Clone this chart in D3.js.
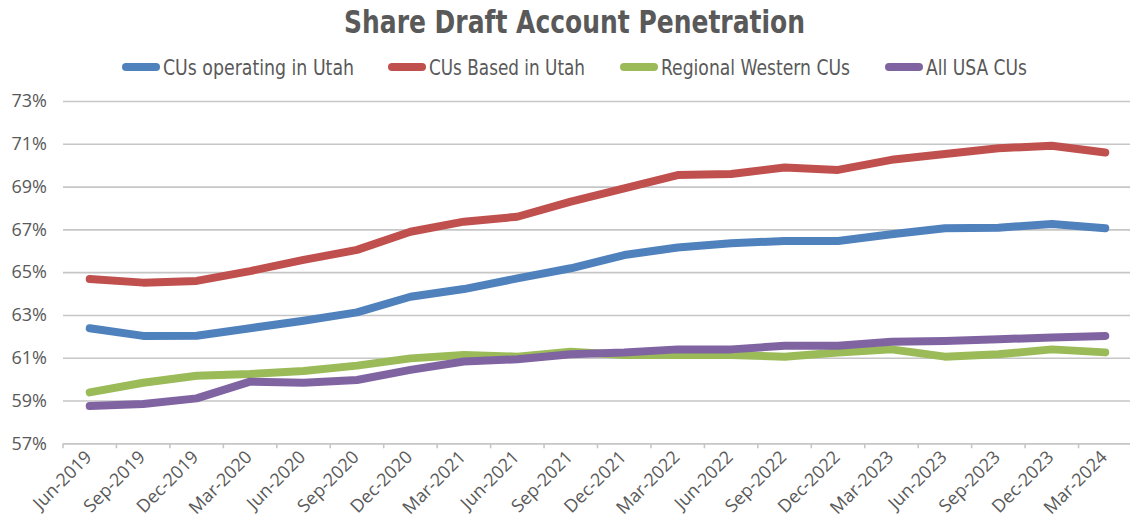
<!DOCTYPE html>
<html>
<head>
<meta charset="utf-8">
<script src="https://cdn.jsdelivr.net/npm/d3@7/dist/d3.min.js"></script>
<style>
  html, body { margin: 0; padding: 0; background: #fff; }
  svg { display: block; }
</style>
</head>
<body>
<svg id="chart" width="1130" height="529"></svg>
<script>
// Quarter-end periods
const categories = [
  "Jun-2019", "Sep-2019", "Dec-2019", "Mar-2020", "Jun-2020", "Sep-2020", "Dec-2020",
  "Mar-2021", "Jun-2021", "Sep-2021", "Dec-2021", "Mar-2022", "Jun-2022", "Sep-2022",
  "Dec-2022", "Mar-2023", "Jun-2023", "Sep-2023", "Dec-2023", "Mar-2024"
];

// Share draft account penetration, percent
const cusOperatingInUtah = [
  62.38, 62.02, 62.03, 62.38, 62.73, 63.12, 63.85, 64.21, 64.71, 65.18,
  65.80, 66.15, 66.35, 66.46, 66.46, 66.77, 67.05, 67.08, 67.25, 67.05
];
const cusBasedInUtah = [
  64.68, 64.51, 64.59, 65.05, 65.57, 66.04, 66.89, 67.36, 67.59, 68.30,
  68.92, 69.54, 69.59, 69.89, 69.78, 70.25, 70.52, 70.79, 70.91, 70.59
];
const regionalWesternCUs = [
  59.38, 59.83, 60.16, 60.24, 60.38, 60.63, 60.97, 61.13, 61.05, 61.28,
  61.13, 61.13, 61.13, 61.05, 61.24, 61.39, 61.05, 61.16, 61.39, 61.25
];
const allUsaCUs = [
  58.74, 58.84, 59.10, 59.88, 59.83, 59.96, 60.43, 60.82, 60.93, 61.16,
  61.24, 61.39, 61.39, 61.56, 61.56, 61.75, 61.78, 61.86, 61.95, 62.02
];

const seriesNames = ["CUs operating in Utah", "CUs Based in Utah", "Regional Western CUs", "All USA CUs"];
const seriesColors = ["#4F81BD", "#C0504D", "#9BBB59", "#8064A2"];
const yTicks = [57, 59, 61, 63, 65, 67, 69, 71, 73];

const series = [cusOperatingInUtah, cusBasedInUtah, regionalWesternCUs, allUsaCUs]
  .map((values, i) => ({ name: seriesNames[i], color: seriesColors[i], values }));

const svg = d3.select("#chart");
const plot = { left: 63, right: 1132, top: 101, bottom: 443.3 };

const x = d3.scaleBand().domain(categories).range([plot.left, plot.right]);
const y = d3.scaleLinear().domain([57, 73]).range([plot.bottom, plot.top]);

const textColor = "#595959";
const gridColor = "#C6C6C6";
const axisFont = "'Open Sans', 'Noto Sans', sans-serif";
const narrowFont = "'DejaVu Sans Condensed', 'Liberation Sans', sans-serif";

// Title (condensed face squeezed to its set width)
svg.append("text")
  .attr("x", 344)
  .attr("y", 33)
  .attr("font-family", narrowFont)
  .attr("font-weight", "bold")
  .attr("font-size", 32)
  .attr("fill", textColor)
  .attr("textLength", 461)
  .attr("lengthAdjust", "spacingAndGlyphs")
  .text("Share Draft Account Penetration");

// Legend
const legendX = [122, 388, 620, 885];
const legendTextWidth = [191, 156, 189, 101];
const legend = svg.append("g");
series.forEach((s, i) => {
  const g = legend.append("g").attr("transform", `translate(${legendX[i]},67)`);
  g.append("line")
    .attr("x1", 4).attr("x2", 34).attr("y1", 0).attr("y2", 0)
    .attr("stroke", s.color).attr("stroke-width", 8).attr("stroke-linecap", "round");
  g.append("text")
    .attr("x", 41).attr("y", 7.5)
    .attr("font-family", narrowFont)
    .attr("font-size", 21)
    .attr("fill", textColor)
    .attr("textLength", legendTextWidth[i])
    .attr("lengthAdjust", "spacingAndGlyphs")
    .text(s.name);
});

// Gridlines
const yAxis = d3.axisLeft(y).tickValues(yTicks)
  .tickSize(-(plot.right - plot.left))
  .tickFormat(d => d + "%")
  .tickPadding(16);

const yG = svg.append("g")
  .attr("transform", `translate(${plot.left},0)`)
  .call(yAxis);
yG.select(".domain").remove();
yG.selectAll(".tick line").attr("stroke", gridColor).attr("stroke-width", 1.6);
yG.selectAll(".tick text")
  .attr("font-family", axisFont)
  .attr("font-size", 18)
  .attr("fill", textColor);

// Category axis with ticks at band boundaries
const xAxis = d3.axisBottom(x).tickSize(0).tickPadding(0);
const xG = svg.append("g")
  .attr("transform", `translate(0,${plot.bottom})`)
  .call(xAxis);
xG.select(".domain").attr("stroke", gridColor).attr("stroke-width", 1.6);
xG.selectAll(".tick text")
  .attr("font-family", axisFont)
  .attr("font-size", 18)
  .attr("fill", textColor)
  .attr("text-anchor", "end")
  .attr("dy", 0)
  .attr("transform", "translate(3,15) rotate(-45)");

const boundaries = categories.map(c => x(c)).concat([x(categories[categories.length - 1]) + x.bandwidth()]);
svg.append("g").selectAll("line")
  .data(boundaries)
  .join("line")
  .attr("x1", d => d).attr("x2", d => d)
  .attr("y1", plot.bottom).attr("y2", plot.bottom + 5)
  .attr("stroke", gridColor).attr("stroke-width", 1.6);

// Series lines
const line = d3.line()
  .x((d, i) => x(categories[i]) + x.bandwidth() / 2)
  .y(d => y(d));

svg.append("g").selectAll("path")
  .data(series)
  .join("path")
  .attr("d", d => line(d.values))
  .attr("fill", "none")
  .attr("stroke", d => d.color)
  .attr("stroke-width", 8)
  .attr("stroke-linecap", "round")
  .attr("stroke-linejoin", "round");
</script>
</body>
</html>
